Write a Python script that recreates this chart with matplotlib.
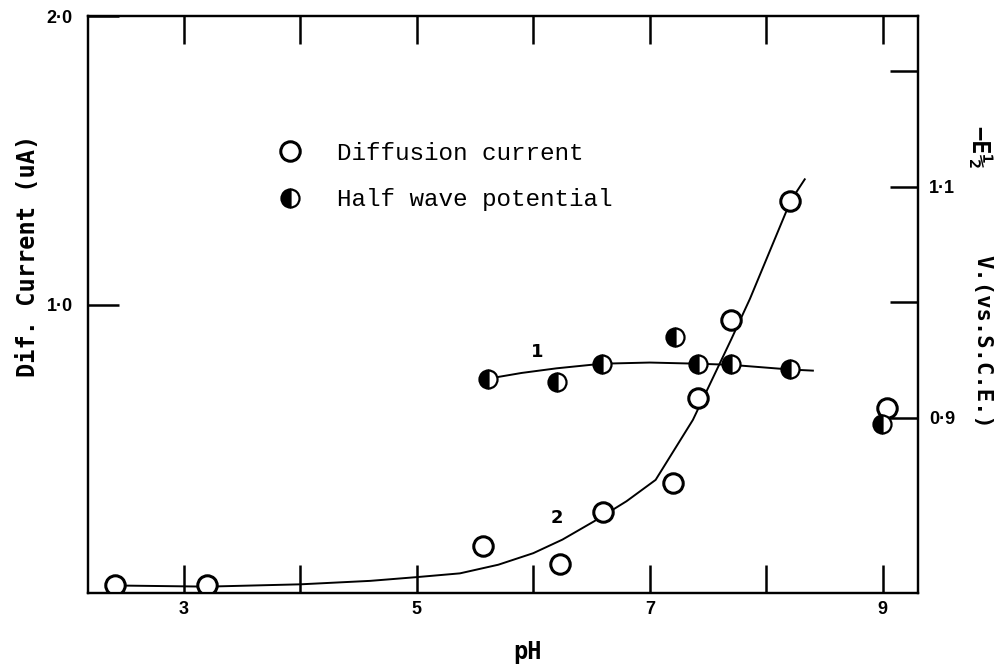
import matplotlib
matplotlib.use("Agg")
import matplotlib.pyplot as plt
from matplotlib.lines import Line2D

# diffusion current (uA), left axis
diff_ph = [2.41, 3.20, 5.57, 6.23, 6.60, 7.20, 7.41, 7.70, 8.20, 9.04]
diff_cur = [0.026, 0.026, 0.163, 0.100, 0.279, 0.381, 0.676, 0.948, 1.359, 0.641]

# half wave potential (-E1/2, V vs SCE), right axis
half_ph = [5.61, 6.20, 6.59, 7.22, 7.41, 7.70, 8.20, 8.99]
half_v = [0.934, 0.931, 0.947, 0.970, 0.947, 0.947, 0.942, 0.895]

# hand drawn curves
curve2_ph = [2.41, 3.2, 4.0, 4.6, 5.0, 5.37, 5.7, 6.0, 6.25, 6.52, 6.8, 7.05,
             7.37, 7.70, 7.86, 8.21, 8.33]
curve2_cur = [0.026, 0.022, 0.030, 0.042, 0.055, 0.068, 0.098, 0.138, 0.185,
              0.248, 0.318, 0.392, 0.60, 0.88, 1.020, 1.36, 1.434]
curve1_ph = [5.61, 5.9, 6.2, 6.59, 7.0, 7.41, 7.70, 8.20, 8.40]
curve1_v = [0.934, 0.939, 0.943, 0.947, 0.948, 0.947, 0.946, 0.942, 0.941]

x_ticks = [3, 4, 5, 6, 7, 8, 9]
x_labels = ["3", "", "5", "", "7", "", "9"]
left_ticks = [1.0, 2.0]
left_labels = ["1·0", "2·0"]
right_ticks = [0.9, 1.0, 1.1, 1.2]
right_labels = ["0·9", "", "1·1", ""]

mono = "DejaVu Sans Mono"
tick_font = {"family": "Liberation Sans", "weight": "bold", "size": 13}

fig = plt.figure(figsize=(10.06, 6.65), dpi=100)
ax = fig.add_axes([0.0875, 0.1083, 0.8250, 0.8676])
ax2 = ax.twinx()

ax.set_xlim(2.178, 9.302)
ax.set_ylim(0, 2.0)
ax2.set_ylim(0.7485, 1.248)

# curves
ax.plot(curve2_ph, curve2_cur, color="black", lw=1.4, zorder=2)
ax2.plot(curve1_ph, curve1_v, color="black", lw=1.4, zorder=2)

# points
ax.plot(diff_ph, diff_cur, ls="none", marker="o", ms=14, mfc="white",
        mec="black", mew=2.2, zorder=4)
ax2.plot(half_ph, half_v, ls="none", marker="o", ms=13, fillstyle="left",
         mfc="black", mfcalt="white", mec="black", mew=1.6, zorder=4)

ax.text(6.03, 0.837, "1", fontsize=13, fontweight="bold", ha="center", va="center")
ax.text(6.20, 0.259, "2", fontsize=13, fontweight="bold", ha="center", va="center")

# axes styling
for a in (ax, ax2):
    for s in a.spines.values():
        s.set_linewidth(1.6)

ax.set_xticks(x_ticks)
ax.set_xticklabels(x_labels, fontdict=tick_font)
ax.set_yticks(left_ticks)
ax.set_yticklabels(left_labels, fontdict=tick_font)
ax.tick_params(axis="x", which="major", direction="in", length=20, width=1.8,
               top=True, pad=6)
ax.tick_params(axis="y", which="major", direction="in", length=22, width=1.8,
               pad=11)
ax2.set_yticks(right_ticks)
ax2.set_yticklabels(right_labels, fontdict=tick_font)
ax2.tick_params(axis="y", direction="in", length=20, width=1.8, pad=8)

ax.set_xlabel("pH", family=mono, fontsize=17, fontweight="bold")
ax.xaxis.set_label_coords(0.530, -0.082)
ax.set_ylabel("Dif. Current (uA)", family=mono, fontsize=17, fontweight="bold")
ax.yaxis.set_label_coords(-0.058, 0.585)

fig.text(978 / 1006, 1 - 147 / 665, "−E½", family=mono, fontsize=17,
         fontweight="bold", rotation=-90, ha="center", va="center")
fig.text(982 / 1006, 1 - 342 / 665, "V.(vs.S.C.E.)", family=mono, fontsize=16,
         fontweight="bold", rotation=-90, ha="center", va="center")

handles = [
    Line2D([], [], ls="none", marker="o", ms=14, mfc="white", mec="black", mew=2.2),
    Line2D([], [], ls="none", marker="o", ms=13, fillstyle="left", mfc="black",
           mfcalt="white", mec="black", mew=1.6),
]
ax.legend(handles, ["Diffusion current", "Half wave potential"],
          loc="center left", bbox_to_anchor=(278 / 1006, 1 - 176.5 / 665),
          bbox_transform=fig.transFigure, frameon=False, borderpad=0,
          borderaxespad=0, handlelength=1.0, handletextpad=1.43,
          labelspacing=0.97, prop={"family": "Liberation Mono", "size": 17.5})

fig.savefig("out.png", dpi=100)
